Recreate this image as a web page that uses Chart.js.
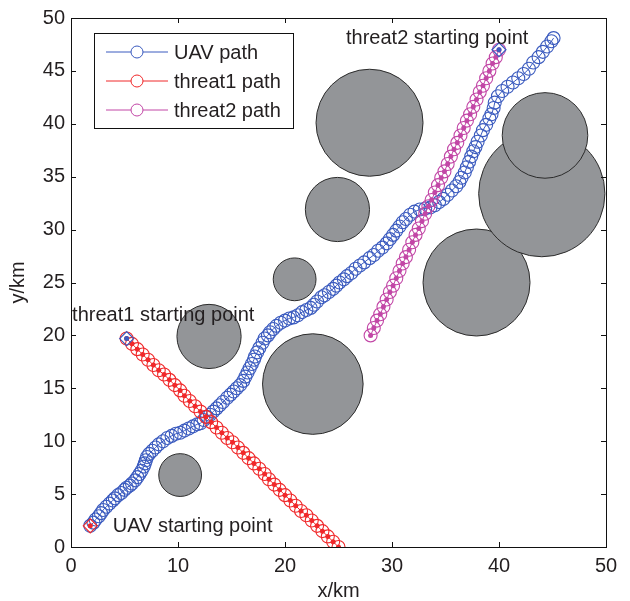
<!DOCTYPE html>
<html>
<head>
<meta charset="utf-8">
<script src="https://cdn.jsdelivr.net/npm/chart.js@4/dist/chart.umd.min.js"></script>
<style>
  html, body { margin: 0; padding: 0; background: #fff; }
  #wrap { width: 630px; height: 601px; }
</style>
</head>
<body>
<div id="wrap"><canvas id="plot"></canvas></div>
<script>
// UAV path (km)
const uavX = [1.8, 2.1, 2.3, 2.6, 2.8, 3.0, 3.3, 3.6, 3.9, 4.1, 4.4, 4.7, 5.0, 5.2, 5.5, 5.7, 6.0, 6.2, 6.4, 6.6,
  6.8, 6.9, 7.0, 7.1, 7.3, 7.6, 7.9, 8.2, 8.6, 9.0, 9.4, 9.8, 10.2, 10.6, 11.0, 11.4, 11.8, 12.1, 12.4, 12.7,
  13.0, 13.3, 13.6, 13.9, 14.2, 14.6, 14.9, 15.2, 15.5, 15.8, 16.1, 16.3, 16.5, 16.7, 16.9, 17.1, 17.2, 17.4, 17.6, 17.9,
  18.1, 18.4, 18.6, 18.9, 19.2, 19.6, 20.0, 20.4, 20.8, 21.2, 21.6, 22.0, 22.4, 22.7, 23.0, 23.4, 23.7, 24.1, 24.5, 24.8,
  25.1, 25.5, 25.8, 26.2, 26.6, 27.0, 27.4, 27.9, 28.3, 28.7, 29.1, 29.5, 29.8, 30.1, 30.4, 30.7, 31.0, 31.3, 31.7, 32.1,
  32.6, 33.1, 33.6, 34.0, 34.4, 34.8, 35.2, 35.6, 36.0, 36.3, 36.5, 36.8, 37.0, 37.2, 37.4, 37.6, 37.8, 38.0, 38.3, 38.5,
  38.8, 39.1, 39.3, 39.5, 39.6, 39.9, 40.3, 40.8, 41.3, 41.8, 42.3, 42.8, 43.2, 43.7, 44.1, 44.5, 44.9, 45.1];
const uavY = [2.0, 2.3, 2.6, 2.9, 3.2, 3.5, 3.8, 4.1, 4.4, 4.6, 4.9, 5.1, 5.4, 5.6, 5.8, 6.0, 6.3, 6.6, 6.9, 7.2,
  7.6, 7.9, 8.2, 8.5, 8.8, 9.1, 9.4, 9.7, 10.0, 10.3, 10.5, 10.7, 10.8, 11.0, 11.2, 11.4, 11.6, 11.7, 12.0, 12.3,
  12.5, 12.8, 13.1, 13.4, 13.7, 14.1, 14.4, 14.7, 15.0, 15.3, 15.7, 16.1, 16.5, 16.9, 17.3, 17.7, 18.0, 18.4, 18.8, 19.3,
  19.7, 20.0, 20.3, 20.6, 20.9, 21.2, 21.4, 21.6, 21.7, 21.9, 22.2, 22.4, 22.6, 22.9, 23.2, 23.6, 23.8, 24.1, 24.4, 24.7,
  25.0, 25.3, 25.6, 25.9, 26.3, 26.6, 26.9, 27.3, 27.6, 28.0, 28.3, 28.7, 29.1, 29.5, 29.9, 30.3, 30.7, 31.0, 31.4, 31.7,
  31.9, 32.0, 32.1, 32.3, 32.6, 32.9, 33.3, 33.7, 34.1, 34.5, 34.9, 35.4, 35.9, 36.4, 36.9, 37.4, 37.8, 38.3, 38.9, 39.4,
  39.9, 40.5, 40.9, 41.5, 42.0, 42.6, 43.1, 43.5, 43.9, 44.3, 44.7, 45.2, 45.8, 46.3, 46.8, 47.3, 47.8, 48.1];

// threat paths (km)
const threat1X = [5.2, 5.7, 6.2, 6.7, 7.2, 7.7, 8.2, 8.7, 9.2, 9.7, 10.2, 10.6, 11.1, 11.6, 12.1, 12.6, 13.1, 13.6, 14.1, 14.6,
  15.1, 15.6, 16.1, 16.6, 17.1, 17.6, 18.1, 18.5, 19.0, 19.5, 20.0, 20.5, 21.0, 21.5, 22.0, 22.5, 23.0, 23.5, 24.0, 24.5, 25.0];
const threat1Y = [19.7, 19.2, 18.7, 18.2, 17.7, 17.2, 16.7, 16.3, 15.8, 15.3, 14.8, 14.3, 13.8, 13.3, 12.8, 12.3, 11.8, 11.3, 10.8, 10.3,
  9.9, 9.4, 8.9, 8.4, 7.9, 7.4, 6.9, 6.4, 5.9, 5.4, 4.9, 4.4, 3.9, 3.4, 3.0, 2.5, 2.0, 1.5, 1.0, 0.5, 0.0];
const threat2X = [40.0, 39.7, 39.4, 39.1, 38.8, 38.5, 38.2, 37.9, 37.6, 37.3, 37.0, 36.7, 36.4, 36.1, 35.8, 35.5, 35.2, 34.9, 34.6, 34.3,
  34.0, 33.7, 33.4, 33.1, 32.8, 32.5, 32.2, 31.9, 31.6, 31.3, 31.0, 30.7, 30.4, 30.1, 29.8, 29.5, 29.2, 28.9, 28.6, 28.3, 28.0];
const threat2Y = [47.0, 46.3, 45.7, 45.0, 44.3, 43.6, 43.0, 42.3, 41.6, 40.9, 40.3, 39.6, 38.9, 38.2, 37.6, 36.9, 36.2, 35.5, 34.9, 34.2,
  33.5, 32.8, 32.2, 31.5, 30.8, 30.1, 29.5, 28.8, 28.1, 27.4, 26.8, 26.1, 25.4, 24.7, 24.1, 23.4, 22.7, 22.0, 21.4, 20.7, 20.0];

// obstacles: centre and radius (km)
const obsX = [10.2, 12.9, 22.6, 20.9, 24.9, 27.9, 37.9, 44.0, 44.3];
const obsY = [6.8, 19.9, 15.4, 25.3, 31.9, 40.1, 25.0, 33.4, 38.9];
const obsR = [2.0, 3.0, 4.7, 2.0, 3.0, 5.0, 5.0, 5.9, 4.0];

// starting points
const startX = [1.8, 5.2, 40.0];
const startY = [2.0, 19.7, 47.0];

// text notes
const noteText = ['threat2 starting point', 'threat1 starting point', 'UAV starting point'];
const noteX = [25.7, 0.1, 3.9];
const noteY = [48.1, 21.9, 1.9];

const xTicks = [0, 10, 20, 30, 40, 50];
const yTicks = [0, 5, 10, 15, 20, 25, 30, 35, 40, 45, 50];

const legendLabels = ['UAV path', 'threat1 path', 'threat2 path'];

const blue = '#3b5bbf';
const red = '#f0282a';
const magenta = '#c246a6';
const ink = '#231f20';
const font = '"Liberation Sans", Arial, Helvetica, sans-serif';

const pts = (xs, ys) => xs.map((x, i) => ({ x, y: ys[i] }));

// radius in pixels from radius in km, via the x scale
function kmToPx(chart, r) {
  const s = chart.scales.x;
  return Math.abs(s.getPixelForValue(r) - s.getPixelForValue(0));
}

const frame = {
  id: 'frame',
  afterDatasetsDraw(chart) {
    const ctx = chart.ctx;
    const { left, right, top, bottom } = chart.chartArea;
    const xs = chart.scales.x, ys = chart.scales.y;
    ctx.save();
    ctx.strokeStyle = '#111';
    ctx.lineWidth = 1;
    ctx.beginPath();
    xTicks.forEach(v => {
      const p = Math.round(xs.getPixelForValue(v)) + 0.5;
      ctx.moveTo(p, bottom); ctx.lineTo(p, bottom - 5);
      ctx.moveTo(p, top); ctx.lineTo(p, top + 5);
    });
    yTicks.forEach(v => {
      const p = Math.round(ys.getPixelForValue(v)) + 0.5;
      ctx.moveTo(left, p); ctx.lineTo(left + 5, p);
      ctx.moveTo(right, p); ctx.lineTo(right - 5, p);
    });
    ctx.stroke();
    ctx.strokeRect(Math.round(left) + 0.5, Math.round(top) + 0.5, Math.round(right - left), Math.round(bottom - top));

    // notes
    ctx.fillStyle = ink;
    ctx.font = '20px ' + font;
    ctx.textAlign = 'left';
    ctx.textBaseline = 'middle';
    noteText.forEach((t, i) => {
      ctx.fillText(t, xs.getPixelForValue(noteX[i]), ys.getPixelForValue(noteY[i]));
    });

    // legend box
    const lx = 94, ly = 33, lw = 199, lh = 95;
    ctx.fillStyle = '#fff';
    ctx.fillRect(lx, ly, lw, lh);
    ctx.strokeStyle = '#111';
    ctx.strokeRect(lx + 0.5, ly + 0.5, lw, lh);
    const cols = [blue, red, magenta];
    legendLabels.forEach((lab, i) => {
      const yy = ly + 19 + i * 29;
      ctx.strokeStyle = cols[i];
      ctx.lineWidth = 1;
      ctx.beginPath();
      ctx.moveTo(106, yy); ctx.lineTo(168, yy);
      ctx.stroke();
      ctx.fillStyle = '#fff';
      ctx.beginPath();
      ctx.arc(137, yy, 6, 0, Math.PI * 2);
      ctx.fill();
      ctx.stroke();
      ctx.fillStyle = ink;
      ctx.fillText(lab, 174, yy + 1);
    });
    ctx.restore();
  }
};

new Chart(document.getElementById('plot'), {
  type: 'scatter',
  data: {
    datasets: [
      {
        label: 'starts',
        data: pts(startX, startY),
        pointStyle: 'rectRot',
        pointRadius: 7,
        pointBorderWidth: 1.2,
        borderColor: [red, blue, blue],
        backgroundColor: 'rgba(0,0,0,0)',
        showLine: false,
        order: 0
      },
      {
        label: 'start dots',
        data: pts(startX, startY),
        pointRadius: 2.5,
        pointBorderWidth: 0,
        backgroundColor: [red, blue, blue],
        showLine: false,
        order: 1
      },
      {
        label: 'threat2 dots',
        data: pts(threat2X, threat2Y),
        pointRadius: 2.5,
        pointBorderWidth: 0,
        backgroundColor: magenta,
        showLine: false,
        order: 2
      },
      {
        label: 'threat2 path',
        data: pts(threat2X, threat2Y),
        borderColor: magenta,
        backgroundColor: 'rgba(0,0,0,0)',
        pointRadius: 6.5,
        pointBorderWidth: 1.1,
        borderWidth: 1,
        showLine: true,
        order: 3
      },
      {
        label: 'threat1 dots',
        data: pts(threat1X, threat1Y),
        pointRadius: 2.5,
        pointBorderWidth: 0,
        backgroundColor: red,
        showLine: false,
        order: 4
      },
      {
        label: 'threat1 path',
        data: pts(threat1X, threat1Y),
        borderColor: red,
        backgroundColor: 'rgba(0,0,0,0)',
        pointRadius: 6.5,
        pointBorderWidth: 1.1,
        borderWidth: 1,
        showLine: true,
        order: 5
      },
      {
        label: 'UAV path',
        data: pts(uavX, uavY),
        borderColor: blue,
        backgroundColor: 'rgba(0,0,0,0)',
        pointRadius: 6.5,
        pointBorderWidth: 1.1,
        borderWidth: 1,
        showLine: true,
        order: 6
      },
      {
        label: 'obstacles',
        data: pts(obsX, obsY),
        pointRadius: c => kmToPx(c.chart, obsR[c.dataIndex]),
        backgroundColor: '#939598',
        borderColor: '#2b2b2b',
        pointBorderWidth: 1,
        showLine: false,
        clip: 0,
        order: 7
      }
    ]
  },
  options: {
    responsive: true,
    maintainAspectRatio: false,
    animation: false,
    events: [],
    layout: { padding: { top: 13, right: 24, left: 0, bottom: 0 } },
    plugins: {
      legend: { display: false },
      tooltip: { enabled: false }
    },
    scales: {
      x: {
        type: 'linear',
        min: 0, max: 50,
        afterFit(s) { s.height = 54; },
        afterBuildTicks(s) { s.ticks = xTicks.map(v => ({ value: v })); },
        grid: { display: false, drawTicks: false },
        border: { display: false },
        ticks: { color: ink, padding: 7, font: { size: 20, family: font } },
        title: { display: true, text: 'x/km', color: ink, padding: 0, font: { size: 20, family: font, lineHeight: 1 } }
      },
      y: {
        type: 'linear',
        min: 0, max: 50,
        afterFit(s) { s.width = 71; },
        afterBuildTicks(s) { s.ticks = yTicks.map(v => ({ value: v })); },
        grid: { display: false, drawTicks: false },
        border: { display: false },
        ticks: { color: ink, padding: 6, font: { size: 20, family: font } },
        title: { display: true, text: 'y/km', color: ink, padding: { top: 8, bottom: 0 }, font: { size: 20, family: font, lineHeight: 1 } }
      }
    }
  },
  plugins: [frame]
});
</script>
</body>
</html>
